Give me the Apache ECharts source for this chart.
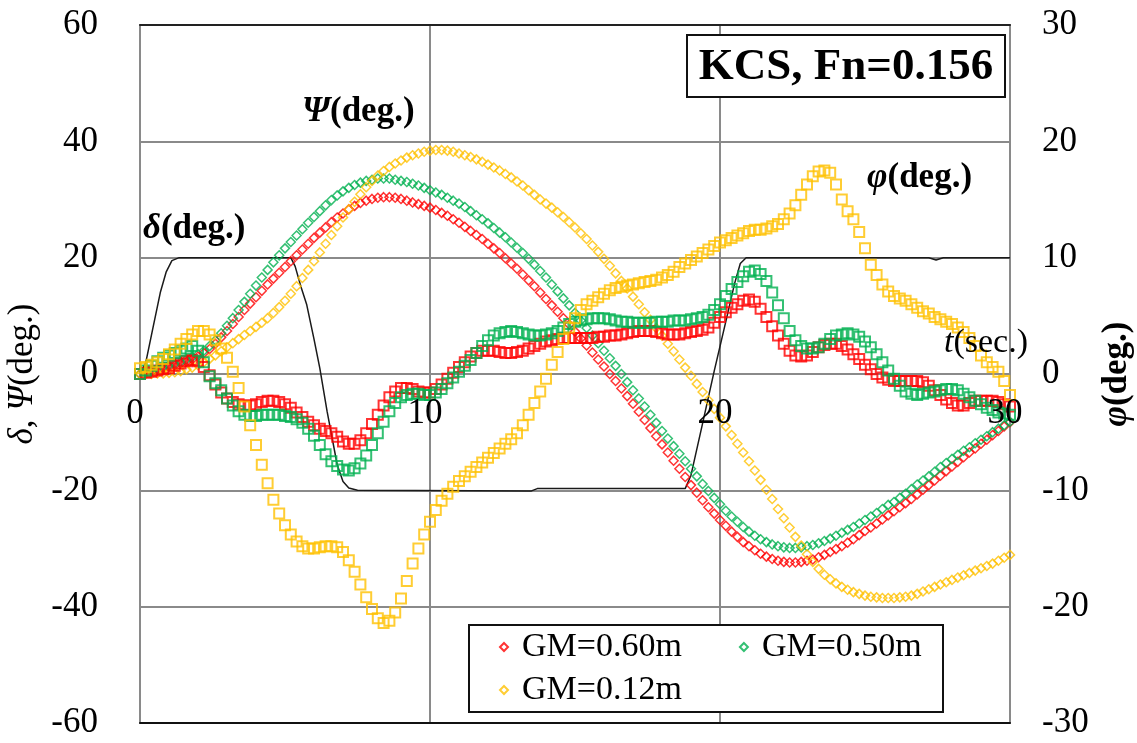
<!DOCTYPE html>
<html>
<head>
<meta charset="utf-8">
<script src="https://cdn.jsdelivr.net/npm/echarts@6/dist/echarts.min.js"></script>
<style>
  html, body { margin: 0; padding: 0; background: #fff; }
  #chart { width: 1137px; height: 743px; }
</style>
</head>
<body>
<div id="chart"></div>
<script>
// Time base (sec.), sampled every 0.2 s
const T = [
  0.0, 0.2, 0.4, 0.6, 0.8, 1.0, 1.2, 1.4, 1.6, 1.8,
  2.0, 2.2, 2.4, 2.6, 2.8, 3.0, 3.2, 3.4, 3.6, 3.8,
  4.0, 4.2, 4.4, 4.6, 4.8, 5.0, 5.2, 5.4, 5.6, 5.8,
  6.0, 6.2, 6.4, 6.6, 6.8, 7.0, 7.2, 7.4, 7.6, 7.8,
  8.0, 8.2, 8.4, 8.6, 8.8, 9.0, 9.2, 9.4, 9.6, 9.8,
  10.0, 10.2, 10.4, 10.6, 10.8, 11.0, 11.2, 11.4, 11.6, 11.8,
  12.0, 12.2, 12.4, 12.6, 12.8, 13.0, 13.2, 13.4, 13.6, 13.8,
  14.0, 14.2, 14.4, 14.6, 14.8, 15.0, 15.2, 15.4, 15.6, 15.8,
  16.0, 16.2, 16.4, 16.6, 16.8, 17.0, 17.2, 17.4, 17.6, 17.8,
  18.0, 18.2, 18.4, 18.6, 18.8, 19.0, 19.2, 19.4, 19.6, 19.8,
  20.0, 20.2, 20.4, 20.6, 20.8, 21.0, 21.2, 21.4, 21.6, 21.8,
  22.0, 22.2, 22.4, 22.6, 22.8, 23.0, 23.2, 23.4, 23.6, 23.8,
  24.0, 24.2, 24.4, 24.6, 24.8, 25.0, 25.2, 25.4, 25.6, 25.8,
  26.0, 26.2, 26.4, 26.6, 26.8, 27.0, 27.2, 27.4, 27.6, 27.8,
  28.0, 28.2, 28.4, 28.6, 28.8, 29.0, 29.2, 29.4, 29.6, 29.8,
  30.0
];

// Heading angle psi (deg.), left axis
const PSI_060 = [
  0.0, 0.2, 0.4, 0.6, 0.9, 1.2, 1.5, 1.8, 2.1, 2.5,
  3.0, 3.6, 4.3, 5.2, 6.3, 7.4, 8.6, 9.8, 11.0, 12.1,
  13.2, 14.3, 15.4, 16.4, 17.4, 18.4, 19.4, 20.4, 21.4, 22.4,
  23.4, 24.3, 25.2, 26.1, 26.9, 27.6, 28.3, 28.9, 29.4, 29.8,
  30.1, 30.3, 30.4, 30.4, 30.3, 30.1, 29.8, 29.5, 29.2, 28.9,
  28.6, 28.2, 27.7, 27.2, 26.6, 26.0, 25.3, 24.6, 23.9, 23.2,
  22.4, 21.6, 20.8, 19.9, 19.0, 18.1, 17.1, 16.1, 15.1, 14.0,
  12.9, 11.8, 10.7, 9.6, 8.5, 7.3, 6.1, 4.9, 3.7, 2.5,
  1.3, 0.0, -1.2, -2.5, -3.8, -5.1, -6.5, -7.9, -9.3, -10.7,
  -12.1, -13.5, -14.9, -16.3, -17.7, -19.1, -20.4, -21.7, -22.9, -24.0,
  -25.1, -26.1, -27.1, -28.0, -28.9, -29.6, -30.3, -30.9, -31.4, -31.8,
  -32.1, -32.3, -32.4, -32.4, -32.3, -32.1, -31.9, -31.5, -31.1, -30.6,
  -30.1, -29.6, -29.0, -28.4, -27.7, -27.0, -26.4, -25.7, -25.0, -24.3,
  -23.6, -22.9, -22.2, -21.5, -20.7, -19.9, -19.1, -18.3, -17.5, -16.7,
  -15.9, -15.1, -14.3, -13.5, -12.8, -12.0, -11.3, -10.5, -9.8, -9.0,
  -8.3
];
const PSI_050 = [
  0.0, 0.3, 0.6, 0.9, 1.2, 1.5, 1.8, 2.1, 2.5, 2.9,
  3.4, 4.0, 4.8, 5.8, 7.0, 8.3, 9.6, 11.0, 12.4, 13.8,
  15.2, 16.6, 17.9, 19.2, 20.4, 21.6, 22.7, 23.8, 24.9, 26.0,
  27.0, 28.0, 29.0, 29.9, 30.7, 31.4, 32.0, 32.5, 32.9, 33.2,
  33.4, 33.6, 33.6, 33.6, 33.4, 33.2, 33.0, 32.7, 32.4, 32.0,
  31.6, 31.2, 30.8, 30.3, 29.8, 29.3, 28.7, 28.0, 27.3, 26.6,
  25.9, 25.1, 24.3, 23.5, 22.6, 21.7, 20.8, 19.8, 18.8, 17.7,
  16.6, 15.4, 14.2, 13.0, 11.8, 10.5, 9.2, 7.9, 6.6, 5.3,
  4.0, 2.7, 1.4, 0.0, -1.4, -2.8, -4.2, -5.6, -7.0, -8.4,
  -9.8, -11.1, -12.4, -13.7, -15.0, -16.3, -17.6, -18.9, -20.1, -21.3,
  -22.4, -23.5, -24.5, -25.4, -26.3, -27.1, -27.8, -28.4, -28.9, -29.3,
  -29.6, -29.8, -29.9, -29.9, -29.8, -29.6, -29.4, -29.1, -28.7, -28.3,
  -27.8, -27.3, -26.8, -26.3, -25.7, -25.1, -24.5, -23.9, -23.2, -22.5,
  -22.0, -21.3, -20.6, -19.8, -19.0, -18.3, -17.6, -16.8, -16.0, -15.3,
  -14.6, -13.9, -13.2, -12.6, -11.9, -11.3, -10.7, -10.0, -9.4, -8.8,
  -8.2
];
const PSI_012 = [
  0.0, 0.0, 0.0, 0.1, 0.1, 0.2, 0.3, 0.5, 0.8, 1.1,
  1.5, 2.0, 2.6, 3.2, 3.9, 4.6, 5.3, 6.0, 6.7, 7.4,
  8.1, 8.8, 9.6, 10.5, 11.5, 12.6, 13.8, 15.1, 16.5, 17.9,
  19.4, 20.9, 22.4, 23.9, 25.4, 26.9, 28.3, 29.6, 30.9, 32.1,
  33.2, 34.1, 34.9, 35.6, 36.2, 36.7, 37.2, 37.6, 37.9, 38.2,
  38.4, 38.5, 38.5, 38.4, 38.2, 37.9, 37.6, 37.3, 36.9, 36.5,
  36.0, 35.5, 35.0, 34.4, 33.8, 33.1, 32.4, 31.6, 30.8, 30.0,
  29.3, 28.6, 27.8, 27.0, 26.1, 25.2, 24.2, 23.2, 22.1, 21.0,
  19.8, 18.6, 17.3, 16.0, 14.7, 13.3, 12.0, 10.6, 9.3, 7.9,
  6.6, 5.2, 3.9, 2.5, 1.1, -0.3, -1.7, -3.1, -4.5, -6.0,
  -7.5, -9.0, -10.5, -12.0, -13.5, -15.0, -16.6, -18.2, -19.9, -21.5,
  -23.2, -24.8, -26.4, -28.0, -29.5, -31.0, -32.3, -33.5, -34.5, -35.3,
  -36.0, -36.6, -37.1, -37.5, -37.8, -38.1, -38.3, -38.4, -38.5, -38.5,
  -38.5, -38.4, -38.3, -38.1, -37.8, -37.4, -37.0, -36.6, -36.2, -35.8,
  -35.4, -35.0, -34.6, -34.2, -33.8, -33.4, -33.0, -32.6, -32.1, -31.6,
  -31.1
];

// Roll angle phi (deg.), right axis
const PHI_060 = [
  0.0, 0.1, 0.2, 0.3, 0.4, 0.5, 0.7, 0.9, 1.1, 1.2,
  1.1, 0.6, -0.1, -0.9, -1.6, -2.1, -2.4, -2.6, -2.7, -2.7,
  -2.6, -2.4, -2.3, -2.3, -2.4, -2.6, -2.9, -3.3, -3.7, -4.1,
  -4.4, -4.7, -4.9, -5.1, -5.4, -5.8, -6.0, -6.0, -5.7, -5.1,
  -4.3, -3.5, -2.7, -2.0, -1.5, -1.2, -1.2, -1.3, -1.5, -1.6,
  -1.6, -1.3, -0.9, -0.4, 0.1, 0.6, 1.0, 1.5, 1.8, 2.0,
  2.0, 2.0, 1.9, 1.8, 1.8, 1.9, 2.0, 2.2, 2.4, 2.6,
  2.8, 2.9, 3.0, 3.1, 3.1, 3.1, 3.1, 3.1, 3.1, 3.2,
  3.2, 3.3, 3.3, 3.4, 3.5, 3.6, 3.7, 3.7, 3.7, 3.6,
  3.5, 3.4, 3.4, 3.4, 3.5, 3.6, 3.7, 3.8, 4.0, 4.4,
  4.9, 5.3, 5.7, 6.0, 6.3, 6.4, 6.2, 5.6, 4.9, 4.1,
  3.3, 2.6, 2.0, 1.6, 1.5, 1.6, 1.9, 2.3, 2.5, 2.6,
  2.6, 2.4, 2.1, 1.7, 1.3, 0.8, 0.4, 0.0, -0.3, -0.5,
  -0.6, -0.6, -0.6, -0.6, -0.6, -0.7, -1.0, -1.4, -1.8, -2.2,
  -2.5, -2.7, -2.7, -2.5, -2.3, -2.3, -2.3, -2.3, -2.4, -2.6,
  -2.8
];
const PHI_050 = [
  0.0, 0.3, 0.7, 1.1, 1.4, 1.6, 1.8, 2.0, 2.2, 2.4,
  2.0, 1.0, -0.2, -0.8, -1.4, -2.1, -2.7, -3.2, -3.5, -3.6,
  -3.6, -3.5, -3.5, -3.5, -3.5, -3.6, -3.7, -3.9, -4.2, -4.7,
  -5.3, -6.1, -6.9, -7.5, -7.9, -8.2, -8.3, -8.1, -7.7, -7.0,
  -6.1, -5.1, -4.1, -3.2, -2.5, -2.0, -1.8, -1.7, -1.7, -1.8,
  -1.8, -1.6, -1.3, -0.8, -0.3, 0.2, 0.7, 1.2, 1.8, 2.4,
  2.9, 3.3, 3.5, 3.6, 3.7, 3.6, 3.5, 3.4, 3.3, 3.3,
  3.4, 3.5, 3.7, 4.0, 4.3, 4.5, 4.6, 4.7, 4.8, 4.8,
  4.8, 4.7, 4.6, 4.5, 4.5, 4.4, 4.4, 4.4, 4.4, 4.5,
  4.5, 4.5, 4.6, 4.6, 4.6, 4.7, 4.8, 4.9, 5.1, 5.5,
  6.0, 6.7, 7.3, 7.9, 8.4, 8.8, 8.9, 8.6, 8.0, 7.0,
  5.9, 4.8, 3.7, 2.9, 2.4, 2.2, 2.2, 2.3, 2.6, 3.0,
  3.3, 3.4, 3.5, 3.4, 3.2, 2.8, 2.3, 1.7, 1.0, 0.3,
  -0.4, -1.0, -1.5, -1.7, -1.8, -1.7, -1.6, -1.5, -1.4, -1.3,
  -1.3, -1.4, -1.7, -2.0, -2.3, -2.6, -2.9, -3.1, -3.3, -3.4,
  -3.5
];
const PHI_012 = [
  0.5, 0.6, 0.8, 1.0, 1.3, 1.7, 2.1, 2.6, 3.0, 3.4,
  3.7, 3.7, 3.4, 2.9, 2.2, 1.4, 0.2, -1.2, -2.8, -4.4,
  -6.1, -7.8, -9.4, -10.8, -12.0, -13.0, -13.8, -14.4, -14.8, -15.0,
  -15.0, -14.9, -14.8, -14.8, -14.9, -15.3, -16.0, -17.0, -18.1, -19.2,
  -20.2, -21.0, -21.4, -21.2, -20.5, -19.3, -17.8, -16.3, -15.0, -13.8,
  -12.7, -11.7, -10.9, -10.3, -9.7, -9.2, -8.8, -8.4, -8.0, -7.6,
  -7.2, -6.8, -6.4, -6.0, -5.6, -5.1, -4.4, -3.5, -2.5, -1.5,
  -0.4, 0.8, 1.9, 3.0, 4.0, 4.8, 5.5, 6.0, 6.3, 6.6,
  6.9, 7.2, 7.4, 7.5, 7.6, 7.7, 7.8, 7.9, 8.0, 8.1,
  8.3, 8.5, 8.8, 9.2, 9.5, 9.8, 10.1, 10.4, 10.7, 11.0,
  11.3, 11.5, 11.7, 11.9, 12.1, 12.3, 12.4, 12.4, 12.5, 12.7,
  12.9, 13.3, 13.8, 14.5, 15.4, 16.3, 17.0, 17.4, 17.5, 17.3,
  16.3, 15.0, 14.0, 13.3, 12.2, 10.8, 9.4, 8.5, 7.7, 7.1,
  6.7, 6.5, 6.3, 6.0, 5.7, 5.4, 5.2, 4.9, 4.7, 4.5,
  4.3, 4.0, 3.6, 3.1, 2.4, 1.6, 1.0, 0.6, 0.2, -0.6,
  -1.8
];

// Rudder angle delta (deg.), left axis
const DELTA_T = [0, 0.2, 0.45, 0.7, 0.9, 1.1, 1.35, 5.2, 5.35, 5.55, 5.75, 6.0, 6.2, 6.45, 6.8, 7.0, 7.2, 7.5, 13.5, 13.7, 18.8, 19.0, 19.4, 19.8, 20.2, 20.5, 20.7, 20.9, 27.2, 27.45, 27.7, 30];
const DELTA_V = [0, 2, 8, 14, 17.5, 19.5, 20, 20, 18.5, 15, 11.9, 6, 1, -6.4, -15.6, -18.5, -19.6, -20, -20.1, -19.7, -19.7, -17.4, -8.5, 0.5, 9, 15.5, 19, 20, 20, 19.6, 20, 20];

const GM_NAMES = ['GM=0.60m', 'GM=0.50m', 'GM=0.12m'];
const GM_COLORS = ['#ff0000', '#00b050', '#ffc000'];

const FONT = '"Liberation Serif", "Times New Roman", Times, serif';
const pairs = (xs, ys) => xs.map((x, i) => [x, ys[i]]);

const psiSets = [PSI_060, PSI_050, PSI_012];
const phiSets = [PHI_060, PHI_050, PHI_012];

const series = [{
  name: 'delta',
  type: 'line',
  data: pairs(DELTA_T, DELTA_V),
  xAxisIndex: 0, yAxisIndex: 0,
  showSymbol: false,
  lineStyle: { color: '#1a1a1a', width: 1.5 },
  silent: true, z: 3
}];
psiSets.forEach((ys, k) => series.push({
  name: GM_NAMES[k], type: 'scatter', data: pairs(T, ys),
  xAxisIndex: 0, yAxisIndex: 0,
  symbol: 'diamond', symbolSize: 9,
  itemStyle: { color: 'rgba(255,255,255,0)', borderColor: GM_COLORS[k], borderWidth: 1.5 },
  silent: true, z: 4
}));
phiSets.forEach((ys, k) => series.push({
  name: GM_NAMES[k], type: 'scatter', data: pairs(T, ys),
  xAxisIndex: 0, yAxisIndex: 1,
  symbol: 'rect', symbolSize: 10,
  itemStyle: { color: 'rgba(255,255,255,0)', borderColor: GM_COLORS[k], borderWidth: 2 },
  silent: true, z: 5
}));

const legendItem = k => ({
  name: GM_NAMES[k], icon: 'diamond',
  itemStyle: { color: '#fff', borderColor: GM_COLORS[k], borderWidth: 2 }
});
const legendBase = {
  orient: 'horizontal', left: 499, padding: 0, z: 30,
  itemWidth: 8, itemHeight: 8, itemGap: 57,
  selectedMode: false,
  textStyle: { fontFamily: FONT, fontSize: 34, color: '#000', padding: [0, 0, 0, 9] }
};

const chart = echarts.init(document.getElementById('chart'), null, { renderer: 'canvas' });
chart.setOption({
  animation: false,
  backgroundColor: '#fff',
  grid: { left: 140, right: 127, top: 25, bottom: 20, containLabel: false, outerBoundsMode: 'none' },
  xAxis: [{
    // tick labels sit just under the zero line of the left axis
    type: 'value', min: 0, max: 30, interval: 10, position: 'bottom', offset: -349, z: 10,
    axisLine: { show: false, onZero: false },
    axisTick: { show: false },
    splitLine: { show: false },
    axisLabel: { margin: 22, fontFamily: FONT, fontSize: 35, color: '#000', padding: [0, 10, 0, 0] }
  }, {
    type: 'value', min: 0, max: 30, interval: 10, position: 'top',
    axisLine: { show: true, onZero: false, lineStyle: { color: '#222', width: 2 } },
    axisTick: { show: false }, axisLabel: { show: false }, splitLine: { show: false }
  }, {
    type: 'value', min: 0, max: 30, interval: 10, position: 'bottom',
    axisLine: { show: true, onZero: false, lineStyle: { color: '#111', width: 2 } },
    axisTick: { show: false }, axisLabel: { show: false },
    splitLine: { show: true, lineStyle: { color: '#8a8a8a', width: 2 } }
  }],
  yAxis: [{
    type: 'value', min: -60, max: 60, interval: 20, position: 'left',
    axisLine: { show: true, onZero: false, lineStyle: { color: '#8a8a8a', width: 2 } },
    axisTick: { show: false },
    splitLine: { show: true, lineStyle: { color: '#8a8a8a', width: 2 } },
    axisLabel: { margin: 42, fontFamily: FONT, fontSize: 35, color: '#000' },
    name: '{i|δ}{n|, }{i|Ψ}{n|(deg.)}',
    nameLocation: 'middle', nameRotate: 90, nameGap: 95,
    nameTextStyle: {
      color: '#000',
      rich: {
        i: { fontFamily: FONT, fontSize: 35, fontStyle: 'italic', color: '#000' },
        n: { fontFamily: FONT, fontSize: 35, color: '#000' }
      }
    }
  }, {
    type: 'value', min: -30, max: 30, interval: 10, position: 'right',
    axisLine: { show: true, onZero: false, lineStyle: { color: '#8a8a8a', width: 2 } },
    axisTick: { show: false },
    splitLine: { show: false },
    axisLabel: { margin: 32, fontFamily: FONT, fontSize: 35, color: '#000' },
    name: '{i|φ}{b|(deg.)}',
    nameLocation: 'middle', nameRotate: 90, nameGap: 85,
    nameTextStyle: {
      color: '#000',
      rich: {
        i: { fontFamily: FONT, fontSize: 35, fontStyle: 'italic', fontWeight: 'bold', color: '#000' },
        b: { fontFamily: FONT, fontSize: 35, fontWeight: 'bold', color: '#000' }
      }
    }
  }],
  legend: [
    Object.assign({}, legendBase, { top: 630, data: [legendItem(0), legendItem(1)] }),
    Object.assign({}, legendBase, { top: 673, data: [legendItem(2)] })
  ],
  graphic: [
    { type: 'rect', z: 20, shape: { x: 469, y: 625, width: 474, height: 87 },
      style: { fill: '#fff', stroke: '#111', lineWidth: 2 } },
    { type: 'rect', z: 20, shape: { x: 687, y: 35, width: 318, height: 62 },
      style: { fill: '#fff', stroke: '#111', lineWidth: 2 } },
    { type: 'text', z: 21, style: { x: 846, y: 67, text: 'KCS, Fn=0.156', align: 'center', verticalAlign: 'middle',
      fontFamily: FONT, fontSize: 45, fontWeight: 'bold', fill: '#000' } },
    { type: 'text', z: 21, style: { x: 302, y: 112, verticalAlign: 'middle', text: '{i|Ψ}{b|(deg.)}',
      rich: { i: { fontFamily: FONT, fontSize: 35, fontStyle: 'italic', fontWeight: 'bold', fill: '#000' },
              b: { fontFamily: FONT, fontSize: 35, fontWeight: 'bold', fill: '#000' } } } },
    { type: 'text', z: 21, style: { x: 143, y: 229, verticalAlign: 'middle', text: '{i|δ}{b|(deg.)}',
      rich: { i: { fontFamily: FONT, fontSize: 35, fontStyle: 'italic', fontWeight: 'bold', fill: '#000' },
              b: { fontFamily: FONT, fontSize: 35, fontWeight: 'bold', fill: '#000' } } } },
    { type: 'text', z: 21, style: { x: 867, y: 178, verticalAlign: 'middle', text: '{i|φ}{b|(deg.)}',
      rich: { i: { fontFamily: FONT, fontSize: 35, fontStyle: 'italic', fontWeight: 'bold', fill: '#000' },
              b: { fontFamily: FONT, fontSize: 35, fontWeight: 'bold', fill: '#000' } } } },
    { type: 'text', z: 21, style: { x: 944, y: 343, verticalAlign: 'middle', text: '{i|t}{n|(sec.)}',
      rich: { i: { fontFamily: FONT, fontSize: 34, fontStyle: 'italic', fill: '#000' },
              n: { fontFamily: FONT, fontSize: 34, fill: '#000' } } } }
  ],
  series: series
});
</script>
</body>
</html>
